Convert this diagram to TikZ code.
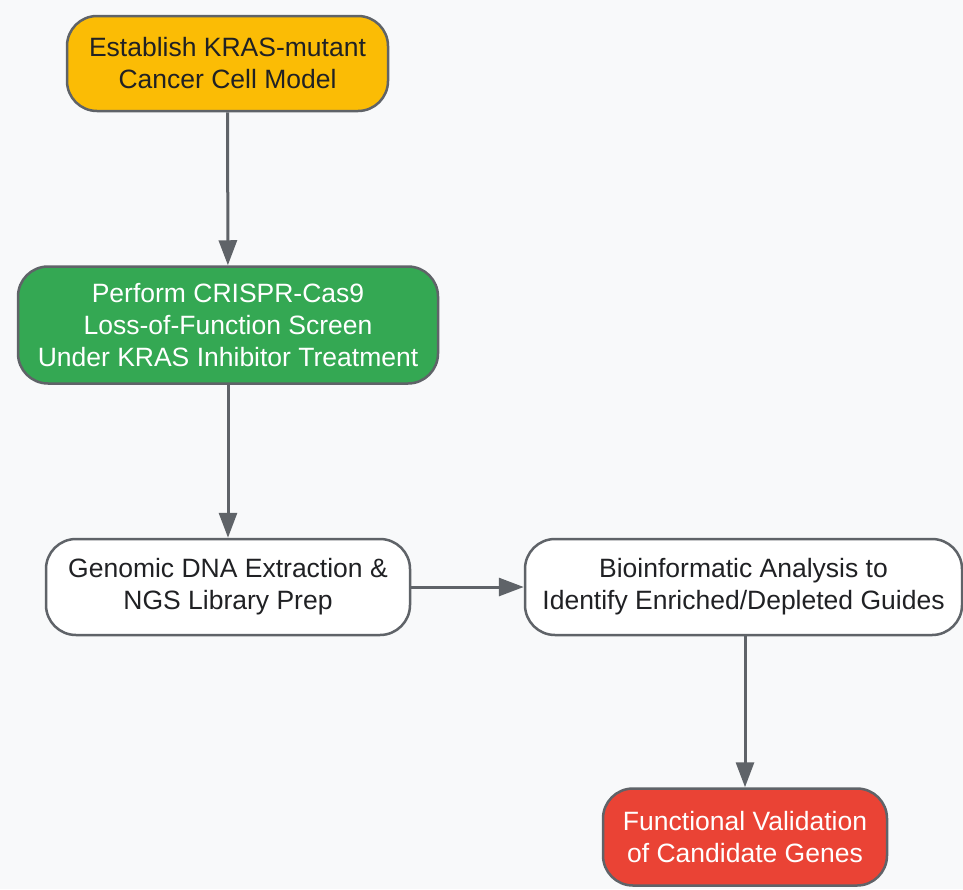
\documentclass[tikz,border=0pt]{standalone}
\usepackage{fontspec}
\setmainfont{Liberation Sans}
\usepackage{xcolor}
\usepackage{tikz}
\usetikzlibrary{arrows.meta}

\definecolor{bggray}{HTML}{F8F9FA}
\definecolor{edgegray}{HTML}{5F6368}
\definecolor{txtdark}{HTML}{202124}
\definecolor{gyellow}{HTML}{FBBC05}
\definecolor{ggreen}{HTML}{34A853}
\definecolor{gred}{HTML}{EA4335}

\begin{document}
\begin{tikzpicture}[
  x = 1pt, y = -1pt,
  every node/.style = {draw = edgegray, line width = 2.5pt, rounded corners = 30pt,
                       align = center, inner sep = 0pt,
                       font = \fontsize{26.5}{32}\selectfont},
  stage/.style = {fill = #1, text = txtdark},
  stagelight/.style = {fill = #1, text = white},
  link/.style = {draw = edgegray, line width = 3pt,
                 -{Triangle[length = 25pt, width = 18pt]}}
  ]
  \fill[bggray] (0,0) rectangle (963,889);
  \useasboundingbox (0,0) rectangle (963,889);

  \node[stage = gyellow, minimum width = 321pt, minimum height = 95pt]
    (model) at (227.5,63.5) {Establish KRAS-mutant\\Cancer Cell Model};
  \node[stagelight = ggreen, minimum width = 420pt, minimum height = 117pt]
    (screen) at (228,325) {Perform CRISPR-Cas9\\Loss-of-Function Screen\\Under KRAS Inhibitor Treatment};
  \node[stage = white, minimum width = 364pt, minimum height = 96pt]
    (prep) at (228,587) {Genomic DNA Extraction \&\\NGS Library Prep};
  \node[stage = white, minimum width = 437pt, minimum height = 96pt]
    (bioinfo) at (743.5,587) {Bioinformatic Analysis to\\Identify Enriched/Depleted Guides};
  \node[stagelight = gred, minimum width = 284pt, minimum height = 97pt]
    (valid) at (745,837) {Functional Validation\\of Candidate Genes};

  \draw[link] (model) -- (screen);
  \draw[link] (screen) -- (prep);
  \draw[link] (prep) -- (bioinfo);
  \draw[link] (bioinfo.south -| valid.north) -- (valid);
\end{tikzpicture}
\end{document}
